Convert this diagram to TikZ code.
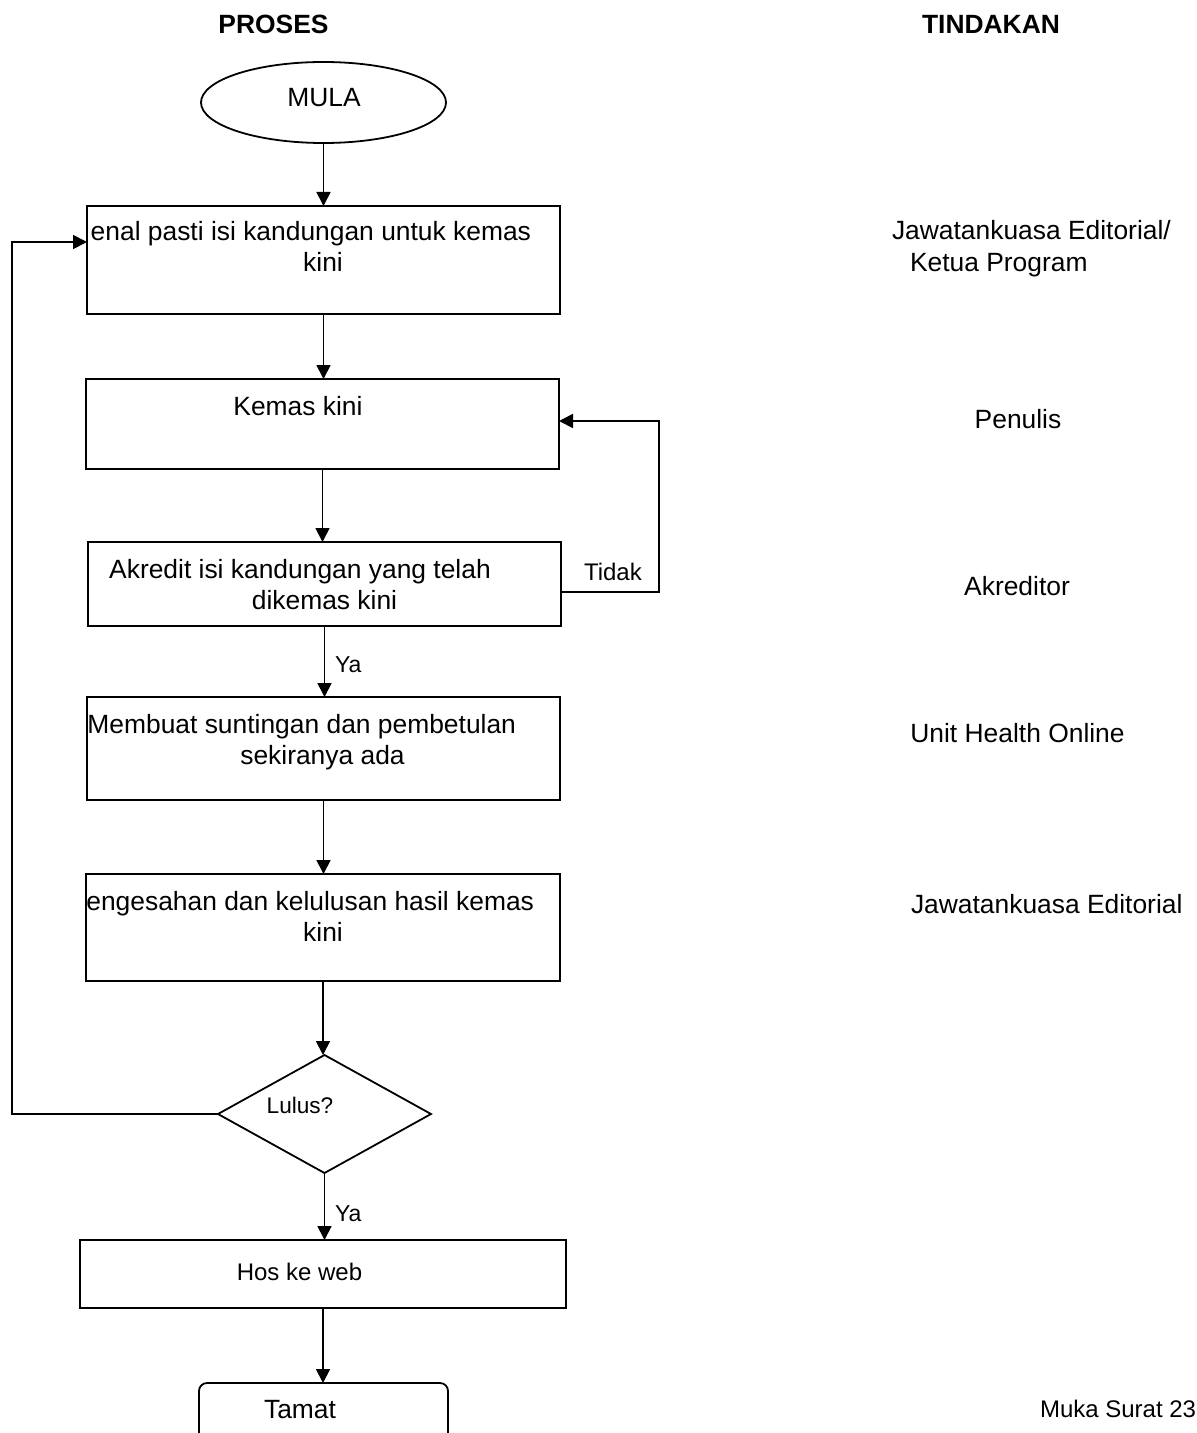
\documentclass[tikz,border=0pt]{standalone}
\usepackage{fontspec}
\setmainfont{Liberation Sans}
\usetikzlibrary{shapes.geometric,arrows.meta}
\begin{document}
\begin{tikzpicture}[x=0.5pt,y=-0.5pt,
  every node/.style={inner sep=0pt, outer sep=0pt},
  box/.style={draw, line width=0.9pt, rectangle},
  arr/.style={line width=0.9pt, -{Triangle[length=7pt,width=7pt]}},
  big/.style={font=\fontsize{13.2}{15}\selectfont},
  small/.style={font=\fontsize{12}{14}\selectfont},
  tiny/.style={font=\fontsize{11.5}{13}\selectfont},
  hd/.style={font=\fontsize{13.2}{15}\selectfont\bfseries}]
\clip (0,0) rectangle (1196,1433);
\fill[white] (0,0) rectangle (1196,1433);

% headings
\node[hd, anchor=base] (hp) at (273.5,34) {PROSES};
\node[hd, anchor=base] (ht) at (991,34) {TINDAKAN};

% shapes
\node[draw, ellipse, line width=0.9pt, minimum width=122.5pt, minimum height=40.5pt] (mula) at (323.5,102.5) {};
\node[big, anchor=base] (tmula) at (324,107) {MULA};

\node[box, minimum width=236.5pt, minimum height=54pt] (b1) at (323.5,260) {};
\node[box, minimum width=236.5pt, minimum height=45pt] (b2) at (322.5,424) {};
\node[box, minimum width=236.5pt, minimum height=42pt] (b3) at (324.5,584) {};
\node[box, minimum width=236.5pt, minimum height=51.5pt] (b4) at (323.5,748.5) {};
\node[box, minimum width=237pt, minimum height=53.5pt] (b5) at (323,927.5) {};
\node[draw, diamond, line width=0.9pt, minimum width=106.5pt, minimum height=59pt] (dia) at (324.5,1114) {};
\node[box, minimum width=243pt, minimum height=34pt] (b6) at (323,1274) {};
\node[draw, rounded corners=4pt, line width=0.9pt, minimum width=124.5pt, minimum height=43.5pt] (b7) at (323.5,1426.5) {};

% texts in boxes
\begin{scope}
\clip (b1.south west) rectangle (b1.north east);
\node[big, anchor=base east] (t1a) at (531,241) {enal pasti isi kandungan untuk kemas};
\end{scope}
\node[big, anchor=base] (t1b) at (323,272) {kini};

\node[big, anchor=base] (t2) at (298,415) {Kemas kini};

\node[big, anchor=base] (t3a) at (300,578) {Akredit isi kandungan yang telah};
\node[big, anchor=base] (t3b) at (324.5,609) {dikemas kini};

\begin{scope}
\clip (b4.south west) rectangle (b4.north east);
\node[big, anchor=base east] (t4a) at (516,733) {Membuat suntingan dan pembetulan};
\end{scope}
\node[big, anchor=base] (t4b) at (322.5,764) {sekiranya ada};

\begin{scope}
\clip (b5.south west) rectangle (b5.north east);
\node[big, anchor=base east] (t5a) at (534,910) {engesahan dan kelulusan hasil kemas};
\end{scope}
\node[big, anchor=base] (t5b) at (323,941) {kini};

\node[font=\fontsize{11.3}{13}\selectfont, anchor=base] (lulus) at (300,1113) {Lulus?};
\node[small, anchor=base] (t6) at (299.5,1280) {Hos ke web};
\node[big, anchor=base] (t7) at (300,1418) {Tamat};

% connectors
\draw[arr] (mula.south) -- (mula.south |- b1.north);
\draw[arr] (b1.south) -- (b1.south |- b2.north);
\draw[arr] (b2.south) -- (b2.south |- b3.north);
\draw[arr] (b3.south) -- (b3.south |- b4.north);
\draw[arr] (b4.south) -- (b4.south |- b5.north);
\draw[arr] (b5.south) -- (b5.south |- dia.north);
\draw[arr] (dia.south) -- (dia.south |- b6.north);
\draw[arr] (b6.south) -- (b6.south |- b7.north);

\coordinate (rk) at (659,500);
\draw[arr] ([yshift=-4pt]b3.east) -| (rk) |- ([yshift=1.5pt]b2.east);
\coordinate (lk) at (12,700);
\draw[arr] (dia.west) -| (lk) |- ([yshift=9pt]b1.west);

\node[small, anchor=base west] (tidak) at (584,580) {Tidak};
\node[tiny, anchor=base west] (ya1) at (335,672) {Ya};
\node[tiny, anchor=base west] (ya2) at (335,1221) {Ya};

% right column
\node[big, anchor=base west] (r1a) at (892,240) {Jawatankuasa Editorial/};
\node[big, anchor=base west] (r1b) at (910,272) {Ketua Program};
\node[big, anchor=base] (r2) at (1018,428) {Penulis};
\node[big, anchor=base] (r3) at (1017,595) {Akreditor};
\node[big, anchor=base] (r4) at (1017.5,742) {Unit Health Online};
\node[big, anchor=base west] (r5) at (911,913) {Jawatankuasa Editorial};
\node[small, anchor=base west] (pg) at (1040,1417) {Muka Surat 23};
\end{tikzpicture}
\end{document}
